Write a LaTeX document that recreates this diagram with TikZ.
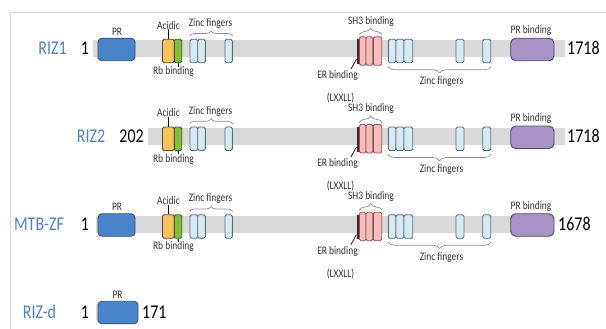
\documentclass[tikz,border=0pt]{standalone}
\usepackage{fontspec}
\setmainfont[FakeStretch=0.82]{Carlito}
\usetikzlibrary{decorations.pathreplacing}
\definecolor{bargray}{HTML}{D9D9D9}
\definecolor{framegray}{HTML}{D6D6D6}
\definecolor{prfill}{HTML}{4A85CC}
\definecolor{prdraw}{HTML}{34506E}
\definecolor{acidfill}{HTML}{F9C35C}
\definecolor{aciddraw}{HTML}{5C4A2A}
\definecolor{rbfill}{HTML}{7CC043}
\definecolor{rbdraw}{HTML}{3D5A22}
\definecolor{zincfill}{HTML}{D7EAF1}
\definecolor{zincdraw}{HTML}{56707A}
\definecolor{pinkfill}{HTML}{F7BDBD}
\definecolor{pinkdraw}{HTML}{8E5656}
\definecolor{erdark}{HTML}{4A2323}
\definecolor{pbfill}{HTML}{A793C5}
\definecolor{pbdraw}{HTML}{4F4560}
\definecolor{nameblue}{HTML}{4F81BD}
\definecolor{bracegray}{HTML}{8C8C8C}
\definecolor{labtext}{HTML}{303030}
\tikzset{
  bar/.style={fill=bargray, draw=none},
  anybox/.style={rectangle, inner sep=0pt, line width=0.9pt},
  prbox/.style={anybox, fill=prfill, draw=prdraw, rounded corners=4pt, minimum height=22.5pt},
  smallbox/.style={anybox, rounded corners=1.5pt, minimum height=23.5pt},
  acidbox/.style={smallbox, fill=acidfill, draw=aciddraw},
  rbbox/.style={smallbox, fill=rbfill, draw=rbdraw},
  zincbox/.style={smallbox, fill=zincfill, draw=zincdraw},
  pinkbox/.style={anybox, rounded corners=1.5pt, fill=pinkfill, draw=pinkdraw, minimum height=28.5pt},
  erbox/.style={anybox, fill=erdark, draw=none, minimum width=2.6pt, minimum height=24.5pt},
  pbbox/.style={anybox, fill=pbfill, draw=pbdraw, rounded corners=5pt, minimum width=43.3pt, minimum height=22.5pt},
  lab/.style={inner sep=0pt, font=\fontsize{11.5}{12}\selectfont, text=labtext, text height=7.4pt, text depth=0pt},
  big/.style={inner sep=0pt, font=\fontsize{19.5}{20}\selectfont, text height=12.4pt, text depth=0pt},
  rowname/.style={big, text=nameblue},
  tick/.style={draw=black, line width=0.8pt},
  brc/.style={draw=bracegray, line width=0.7pt, decorate, decoration={brace, amplitude=#1, aspect=0.5}},
  brc/.default=5pt,
  frameline/.style={draw=framegray, line width=0.8pt}
}
\newcommand\domains[2]{%
\begin{scope}[shift={(0,#2)}]
  \node[acidbox, minimum width=11.8pt] (#1acid) at (168.4,2) {};
  \node[rbbox, minimum width=7.4pt] (#1rb) at (178,2) {};
  \node[zincbox, minimum width=7.7pt] (#1za) at (193.85,2) {};
  \node[zincbox, minimum width=7.6pt] (#1zb) at (201.5,2) {};
  \node[zincbox, minimum width=7.3pt] (#1zc) at (228.65,2) {};
  \node[erbox] (#1er) at (358.2,2.5) {};
  \node[pinkbox, minimum width=6.5pt] (#1pa) at (362.75,2) {};
  \node[pinkbox, minimum width=6.7pt] (#1pb) at (369.35,2) {};
  \node[pinkbox, minimum width=8.4pt] (#1pc) at (377.5,2) {};
  \node[zincbox, minimum width=7.7pt] (#1zd) at (392.15,2) {};
  \node[zincbox, minimum width=8pt] (#1ze) at (400,2) {};
  \node[zincbox, minimum width=8.7pt] (#1zf) at (408.35,2) {};
  \node[zincbox, minimum width=8pt] (#1zg) at (460,2) {};
  \node[zincbox, minimum width=8pt] (#1zh) at (486.7,2) {};
  \node[pbbox] (#1pbind) at (532.35,0.5) {};
  \node[lab] (#1acidlab) at (168.4,-23.5) {Acidic};
  \draw[tick] (#1acidlab.south) -- (#1acid.north);
  \node[lab] (#1rblab) at (173.5,21.5) {Rb binding};
  \draw[tick] (#1rb.south) -- (#1rb.south |- #1rblab.north);
  \node[lab] (#1zflab) at (210.5,-26.5) {Zinc fingers};
  \draw[brc] ([yshift=13pt]#1za.west |- 0,0) coordinate (#1zbr1) -- ([yshift=13pt]#1zc.east |- 0,0) coordinate (#1zbr2);
  \node[lab] (#1shlab) at (371,-28.5) {SH3 binding};
  \draw[brc=7pt] ([yshift=14pt]#1pa.west |- 0,0) coordinate (#1sbr1) -- ([yshift=14pt]#1pc.east |- 0,0) coordinate (#1sbr2);
  \node[lab] (#1zflabb) at (441.5,32) {Zinc fingers};
  \draw[brc=6.5pt] ([yshift=-17.5pt]#1zh.east |- 0,0) coordinate (#1bbr1) -- ([yshift=-17.5pt]#1zd.west |- 0,0) coordinate (#1bbr2);
  \node[lab] (#1erlab) at (337.5,26) {ER binding};
  \draw[draw=erdark, line width=0.9pt] ([xshift=-7pt,yshift=2pt]#1erlab.north east) -- ([yshift=5pt]#1er.south west);
  \node[lab] (#1lxx) at (340.5,49.3) {(LXXLL)};
  \node[lab] (#1pblab) at (531,-19) {PR binding};
\end{scope}}
\begin{document}
\begin{tikzpicture}[x=1pt, y=-1pt]
\useasboundingbox (0,0) rectangle (606,329);
\draw[frameline] (10,329) -- (10,12) -- (606,12);
% Row 1: RIZ1
\fill[bar] (93,40.5) rectangle (565,57.5);
\node[prbox, minimum width=37pt] (r1pr) at (116.5,49.5) {};
\node[lab] (r1prlab) at (117,31.5) {PR};
\domains{r1}{49}
\node[rowname] (r1name) at (52.5,48.5) {RIZ1};
\node[big] (r1start) at (85,48.5) {1};
\node[big, anchor=west] (r1end) at (567,48.5) {1718};
% Row 2: RIZ2
\fill[bar] (148,128.3) rectangle (565,145.3);
\domains{r2}{136.8}
\node[rowname] (r2name) at (91,136.3) {RIZ2};
\node[big, anchor=east] (r2start) at (144,136.3) {202};
\node[big, anchor=west] (r2end) at (567,136.3) {1718};
% Row 3: MTB-ZF
\fill[bar] (96,216) rectangle (554,233);
\node[prbox, minimum width=37pt] (r3pr) at (116.5,225) {};
\node[lab] (r3prlab) at (117,207) {PR};
\domains{r3}{224.5}
\node[rowname] (r3name) at (39,224) {MTB-ZF};
\node[big] (r3start) at (85,224) {1};
\node[big, anchor=west] (r3end) at (558,224) {1678};
% Row 4: RIZ-d
\fill[bar] (96,303.5) rectangle (138,320.5);
\node[prbox, minimum width=40pt] (r4pr) at (118,312.5) {};
\node[lab] (r4prlab) at (117.5,295) {PR};
\node[rowname] (r4name) at (39.5,312) {RIZ-d};
\node[big] (r4start) at (85,312) {1};
\node[big, anchor=west] (r4end) at (142,312) {171};
\end{tikzpicture}
\end{document}
